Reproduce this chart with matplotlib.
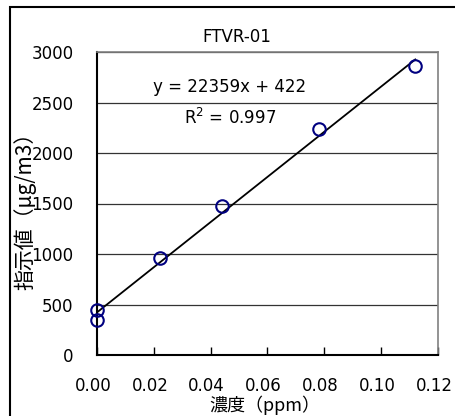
import matplotlib
matplotlib.use('Agg')
import matplotlib.pyplot as plt
from matplotlib.patches import Rectangle
from matplotlib.transforms import ScaledTranslation

plt.rcParams['font.family'] = ['DejaVu Sans', 'Noto Sans CJK JP']

# concentration (ppm) vs indicated value (ug/m3)
conc = [0.0, 0.0, 0.022, 0.044, 0.078, 0.112]
value = [445, 347, 957, 1478, 2237, 2864]
slope, intercept = 22359, 422
fit_x = [0.0, 0.112]
xticks = [0.00, 0.02, 0.04, 0.06, 0.08, 0.10, 0.12]
yticks = [0, 500, 1000, 1500, 2000, 2500, 3000]

fig = plt.figure(figsize=(4.56, 4.16), dpi=100)
ax = fig.add_axes([97/456, 1-355/416, (438-97)/456, (355-52)/416])

fit_y = [slope*x + intercept for x in fit_x]
ax.plot(fit_x, fit_y, 'k-', linewidth=1.3, zorder=3)
ax.plot(conc, value, 'o', markersize=9, markerfacecolor='none',
        markeredgecolor='#000080', markeredgewidth=1.5, zorder=4, clip_on=False)

ax.set_xlim(0, 0.12)
ax.set_ylim(0, 3000)
ax.set_xticks(xticks)
ax.set_xticklabels(['%.2f' % t for t in xticks])
ax.set_yticks(yticks)
ax.yaxis.grid(True, color='#333333', linewidth=0.9)
ax.set_axisbelow(True)
ax.tick_params(axis='x', direction='in', length=6, width=1, pad=16, labelsize=12)
ax.tick_params(axis='y', length=0, pad=17, labelsize=12)
shift = ScaledTranslation(-4/100, 0, fig.dpi_scale_trans)
for lab in ax.get_xticklabels():
    lab.set_transform(lab.get_transform() + shift)

for s in ['top', 'right']:
    ax.spines[s].set_color('#808080')
    ax.spines[s].set_linewidth(1.2)
for s in ['left', 'bottom']:
    ax.spines[s].set_color('black')
    ax.spines[s].set_linewidth(1.5)

fig.text(237/456, 1-37/416, 'FTVR-01', ha='center', va='center', fontsize=12)
ax.text(0.0468, 2650, 'y = 22359x + 422', ha='center', va='center', fontsize=12)
ax.text(0.0468, 2350, 'R$^2$ = 0.997', ha='center', va='center', fontsize=12)

fig.text(25/456, 1-206/416, '指示値（μg/m3）', rotation=90, ha='center', va='center',
         fontsize=15, family=['Noto Sans CJK JP', 'DejaVu Sans'])
fig.text(265/456, 1-405/416, '濃度（ppm）', ha='center', va='center',
         fontsize=13, family=['Noto Sans CJK JP', 'DejaVu Sans'])

frame = Rectangle((10/456, -0.1), 1.2, 1-7/416+0.1, transform=fig.transFigure,
                  fill=False, edgecolor='black', linewidth=1.5)
fig.patches.append(frame)

fig.savefig('out.png', dpi=100)
